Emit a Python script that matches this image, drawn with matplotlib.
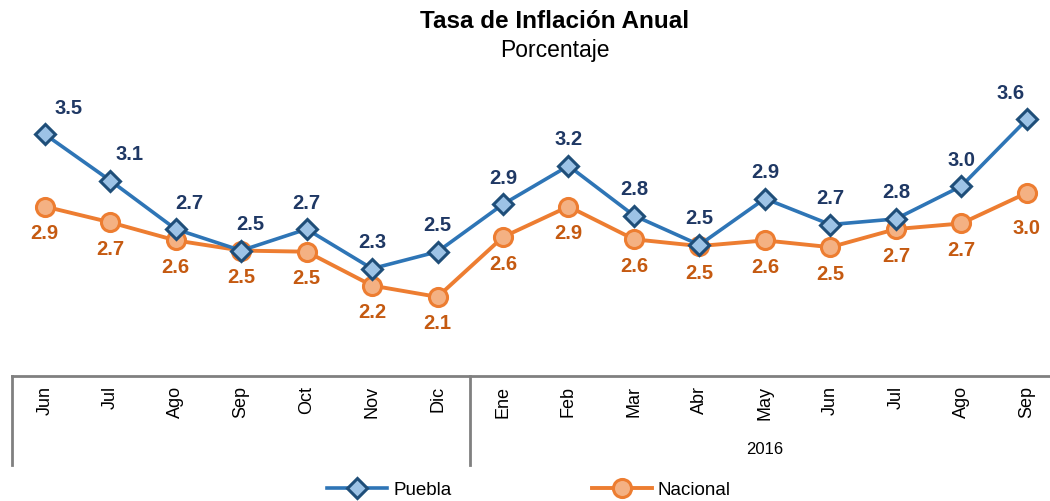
import matplotlib
matplotlib.use("Agg")
import matplotlib.pyplot as plt
import matplotlib.transforms as mtransforms

plt.rcParams["font.family"] = ["Liberation Sans", "DejaVu Sans"]

months = ["Jun", "Jul", "Ago", "Sep", "Oct", "Nov", "Dic",
          "Ene", "Feb", "Mar", "Abr", "May", "Jun", "Jul", "Ago", "Sep"]
puebla = [3.50, 3.09, 2.66, 2.47, 2.66, 2.31, 2.46, 2.88,
          3.22, 2.78, 2.52, 2.93, 2.70, 2.75, 3.04, 3.63]
nacional = [2.86, 2.72, 2.56, 2.47, 2.46, 2.16, 2.06, 2.59,
            2.86, 2.57, 2.51, 2.56, 2.50, 2.66, 2.71, 2.98]
year_label = "2016"
year_start = 7  # index of "Ene"

W, H = 1050, 501
fig = plt.figure(figsize=(W / 100, H / 100), dpi=100)
ax = fig.add_axes([12 / W, 1 - 376 / H, (W - 12) / W, (376 - 60) / H])

x = list(range(len(months)))
ax.plot(x, puebla, color="#2E75B6", lw=2.6, marker="D", ms=10,
        mfc="#9DC3E6", mec="#1F4E79", mew=2.2, label="Puebla", zorder=3)
ax.plot(x, nacional, color="#ED7D31", lw=2.8, marker="o", ms=13,
        mfc="#F4B183", mec="#ED7D31", mew=2.2, label="Nacional", zorder=2)

for i, v in enumerate(puebla):
    dx = 0
    if i < 4:
        dx = 24 - 5 * i
    if i == len(puebla) - 1:
        dx = -16
    ax.annotate(f"{v:.1f}", (i, v), xytext=(dx, 26), textcoords="offset pixels",
                ha="center", va="center", fontsize=14.5, fontweight="bold",
                color="#1F3864")
for i, v in enumerate(nacional):
    dy = -36 if i == len(nacional) - 1 else -27
    ax.annotate(f"{v:.1f}", (i, v), xytext=(0, dy), textcoords="offset pixels",
                ha="center", va="center", fontsize=14.5, fontweight="bold",
                color="#C55A11")

span = 65.47
ax.set_xlim(-0.5, -0.5 + (W - 12) / span)
ax.set_ylim(1.36, 1.36 + 316 / 113)
ax.set_yticks([])
ax.set_xticks(x)
ax.set_xticklabels(months, rotation=90, fontsize=13, va="top", ha="center")
ax.tick_params(axis="x", length=0, pad=7)
for s in ["top", "right", "left"]:
    ax.spines[s].set_visible(False)
ax.spines["bottom"].set_color("#808080")
ax.spines["bottom"].set_linewidth(2)

trans = mtransforms.blended_transform_factory(ax.transData, ax.transAxes)
for xv in [-0.5, year_start - 0.5]:
    ax.plot([xv, xv], [0, -89 / 316], transform=trans, color="#808080",
            lw=2, clip_on=False)
ax.text((year_start + len(months) - 1) / 2, -74 / 316, year_label,
        transform=trans, ha="center", va="center", fontsize=12)

fig.text(555 / W, 1 - 22 / H, "Tasa de Inflación Anual", ha="center",
         va="center", fontsize=17.5, fontweight="bold")
fig.text(555 / W, 1 - 50 / H, "Porcentaje", ha="center", va="center",
         fontsize=16.5)

fig.legend(loc="center", bbox_to_anchor=(529 / W, 1 - 490 / H), ncol=2,
           frameon=False, fontsize=13.5, handlelength=3.2, columnspacing=7.5,
           handletextpad=0.3)

fig.savefig("out.png", dpi=100)
